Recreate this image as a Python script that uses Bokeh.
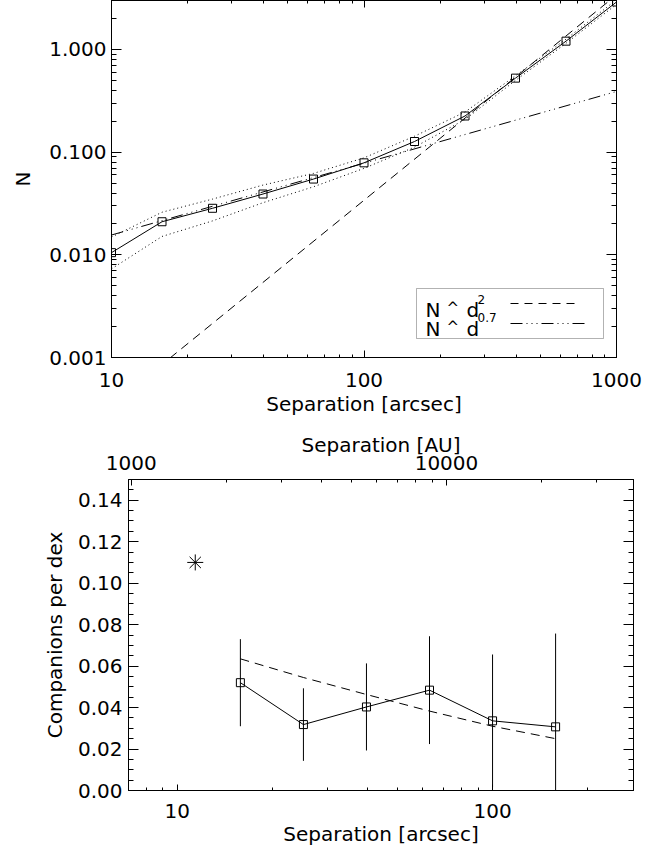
import math
from bokeh.plotting import figure
from bokeh.models import (Range1d, LogAxis, LinearAxis, FixedTicker, CustomJSTickFormatter,
                          LogScale, BoxAnnotation, Label, ColumnDataSource)
from bokeh.layouts import column, row
from bokeh.embed import file_html
from bokeh.resources import INLINE

# ---------------- data: top panel (cumulative number of companions) ----------------
sep_cum = [10.0, 15.85, 25.12, 39.81, 63.10, 100.0, 158.5, 251.2, 398.1, 631.0, 1000.0]
n_cum = [0.0105, 0.0210, 0.0284, 0.0391, 0.0547, 0.0787, 0.127, 0.225, 0.526, 1.205, 2.9]
n_upper = [0.0149, 0.0260, 0.0349, 0.0478, 0.0621, 0.0880, 0.143, 0.246, 0.555, 1.26, 3.05]
n_lower = [0.0073, 0.0151, 0.0214, 0.0322, 0.0460, 0.0695, 0.112, 0.208, 0.500, 1.15, 2.75]
model_sep = [10.0, 1000.0]
model_d2 = [3.4e-4, 3.4]
model_d07 = [0.0156, 0.39]

top_x_ticks = [10, 100, 1000]
top_x_minor = [20, 30, 40, 50, 60, 70, 80, 90, 200, 300, 400, 500, 600, 700, 800, 900]
top_y_ticks = [0.001, 0.01, 0.1, 1.0]
top_y_minor = [0.002, 0.003, 0.004, 0.005, 0.006, 0.007, 0.008, 0.009,
               0.02, 0.03, 0.04, 0.05, 0.06, 0.07, 0.08, 0.09,
               0.2, 0.3, 0.4, 0.5, 0.6, 0.7, 0.8, 0.9, 2.0, 3.0]

# ---------------- data: bottom panel (companions per dex) ----------------
sep_bins = [15.85, 25.12, 39.81, 63.10, 100.0, 158.5]
comp_per_dex = [0.0520, 0.0318, 0.0403, 0.0484, 0.0336, 0.0307]
comp_err = [0.021, 0.0175, 0.021, 0.026, 0.032, 0.045]
fit_per_dex = [0.0635, 0.0545, 0.0463, 0.0383, 0.0310, 0.0250]
wide_sep = [11.4]
wide_val = [0.110]

bot_x_ticks = [10, 100]
bot_x_minor = [7, 8, 9, 20, 30, 40, 50, 60, 70, 80, 90, 200]
bot_y_ticks = [0.00, 0.02, 0.04, 0.06, 0.08, 0.10, 0.12, 0.14]
bot_y_minor = [0.005, 0.010, 0.015, 0.025, 0.030, 0.035, 0.045, 0.050, 0.055,
               0.065, 0.070, 0.075, 0.085, 0.090, 0.095, 0.105, 0.110, 0.115,
               0.125, 0.130, 0.135, 0.145, 0.150]
DIST_PC = 140.0
au_ticks = [1000, 10000]
au_minor = [2000, 3000, 4000, 5000, 6000, 7000, 8000, 9000, 20000, 30000]

FONT = "DejaVu Sans"
FS = "20px"
DASH = "9 6"
DOT = "1 3"
DASHDOT3 = "12 4 1 4 1 4 1 4"


def style_axis(ax, tlen, show=True):
    ax.axis_line_color = "black"
    ax.axis_line_width = 1
    ax.major_tick_line_color = "black"
    ax.minor_tick_line_color = "black"
    ax.major_tick_in = tlen
    ax.major_tick_out = 0
    ax.minor_tick_in = max(1, tlen // 2)
    ax.minor_tick_out = 0
    ax.major_label_text_font = FONT
    ax.major_label_text_color = "black"
    ax.axis_label_text_font = FONT
    ax.axis_label_text_font_size = FS
    ax.axis_label_text_font_style = "normal"
    ax.axis_label_text_color = "black"
    if show:
        ax.major_label_text_font_size = FS
    else:
        ax.major_label_text_font_size = "1px"
        ax.major_label_standoff = 0
        ax.formatter = CustomJSTickFormatter(code="return '';")


fmt0 = CustomJSTickFormatter(code="return tick.toFixed(0);")
fmt2 = CustomJSTickFormatter(code="return tick.toFixed(2);")
fmt3 = CustomJSTickFormatter(code="return tick.toFixed(3);")

# ================= top panel =================
X0, X1 = 10.0, 1000.0
Y0, Y1 = 0.001, 3.0
p1 = figure(x_axis_type="log", y_axis_type="log",
            x_range=Range1d(X0, X1), y_range=Range1d(Y0, Y1),
            frame_width=505, frame_height=357,
            min_border_left=111, min_border_right=30, min_border_top=0, min_border_bottom=60,
            output_backend="svg", toolbar_location=None)
p1.grid.visible = False
p1.outline_line_color = "black"
p1.background_fill_color = "white"

xa = p1.xaxis[0]
xa.ticker = FixedTicker(ticks=top_x_ticks, minor_ticks=top_x_minor)
xa.formatter = fmt0
xa.axis_label = "Separation [arcsec]"
style_axis(xa, 7)
xa.major_label_standoff = 15
xa.axis_label_standoff = 2

ya = p1.yaxis[0]
ya.ticker = FixedTicker(ticks=top_y_ticks, minor_ticks=top_y_minor)
ya.formatter = fmt3
ya.axis_label = "N"
style_axis(ya, 10)
ya.major_label_standoff = 5
ya.axis_label_standoff = 11

xt = LogAxis(ticker=FixedTicker(ticks=top_x_ticks, minor_ticks=top_x_minor))
style_axis(xt, 7, show=False)
p1.add_layout(xt, "above")
yr = LogAxis(ticker=FixedTicker(ticks=top_y_ticks, minor_ticks=top_y_minor))
style_axis(yr, 10, show=False)
p1.add_layout(yr, "right")

p1.line(sep_cum, n_upper, line_color="black", line_width=1, line_dash=DOT)
p1.line(sep_cum, n_lower, line_color="black", line_width=1, line_dash=DOT)
p1.line(model_sep, model_d2, line_color="black", line_width=1, line_dash=DASH)
p1.line(model_sep, model_d07, line_color="black", line_width=1, line_dash=DASHDOT3)
p1.line(sep_cum, n_cum, line_color="black", line_width=1)
p1.scatter(sep_cum, n_cum, marker="square", size=8, fill_color=None, line_color="black", line_width=1)


def tx(px):
    return 10 ** (math.log10(X0) + (px - 111) / 505 * (math.log10(X1) - math.log10(X0)))


def ty(py):
    return 10 ** (math.log10(Y0) + (358 - py) / 357 * (math.log10(Y1) - math.log10(Y0)))


p1.add_layout(BoxAnnotation(left=tx(416), right=tx(603), bottom=ty(339), top=ty(289),
                            fill_color=None, fill_alpha=0, line_color="black", line_width=1))
for (txt, px, py, fs) in [("N", 425, 310, FS), ("^", 446, 308, "15px"), ("d", 466, 310, FS),
                          ("2", 477, 300, "12px"),
                          ("N", 425, 329, FS), ("^", 446, 327, "15px"), ("d", 466, 329, FS),
                          ("0.7", 477, 318, "12px")]:
    p1.add_layout(Label(x=tx(px), y=ty(py), text=txt, text_font=FONT, text_font_size=fs,
                        text_color="black", text_baseline="alphabetic", text_align="left"))
p1.line([tx(510), tx(578)], [ty(304), ty(304)], line_color="black", line_width=1, line_dash="8 6")
p1.line([tx(510), tx(586)], [ty(324), ty(324)], line_color="black", line_width=1, line_dash=DASHDOT3)

# ================= bottom panel =================
BX0, BX1 = 7.0, 280.0
p2 = figure(x_axis_type="log", x_range=Range1d(BX0, BX1), y_range=Range1d(0.0, 0.15),
            frame_width=505, frame_height=311,
            min_border_left=128, min_border_right=20, min_border_top=61, min_border_bottom=54,
            output_backend="svg", toolbar_location=None)
p2.grid.visible = False
p2.outline_line_color = "black"
p2.extra_x_ranges = {"au": Range1d(BX0 * DIST_PC, BX1 * DIST_PC)}
p2.extra_x_scales = {"au": LogScale()}

bx = p2.xaxis[0]
bx.ticker = FixedTicker(ticks=bot_x_ticks, minor_ticks=bot_x_minor)
bx.formatter = fmt0
bx.axis_label = "Separation [arcsec]"
style_axis(bx, 6)
bx.major_label_standoff = 13
bx.axis_label_standoff = 1

by = p2.yaxis[0]
by.ticker = FixedTicker(ticks=bot_y_ticks, minor_ticks=bot_y_minor)
by.formatter = fmt2
by.axis_label = "Companions per dex"
style_axis(by, 10)
by.major_label_standoff = 6
by.axis_label_standoff = 8

au = LogAxis(x_range_name="au", ticker=FixedTicker(ticks=au_ticks, minor_ticks=au_minor),
             formatter=fmt0, axis_label="Separation [AU]")
style_axis(au, 6)
au.major_label_standoff = 10
au.axis_label_standoff = -4
p2.add_layout(au, "above")
br = LinearAxis(ticker=FixedTicker(ticks=bot_y_ticks, minor_ticks=bot_y_minor))
style_axis(br, 10, show=False)
p2.add_layout(br, "right")

src = ColumnDataSource(dict(
    x=sep_bins, y=comp_per_dex, fit=fit_per_dex,
    lo=[v - e for v, e in zip(comp_per_dex, comp_err)],
    hi=[v + e for v, e in zip(comp_per_dex, comp_err)]))
p2.segment(x0="x", y0="lo", x1="x", y1="hi", source=src, line_color="black", line_width=1)
p2.line("x", "fit", source=src, line_color="black", line_width=1, line_dash=DASH)
p2.line("x", "y", source=src, line_color="black", line_width=1)
p2.scatter("x", "y", source=src, marker="square", size=8, fill_color=None,
           line_color="black", line_width=1)
p2.scatter(wide_sep, wide_val, marker="asterisk", size=16, line_color="black", line_width=1)

layout = column(row(p1), row(p2))
open("out.html", "w").write(file_html(layout, INLINE))
